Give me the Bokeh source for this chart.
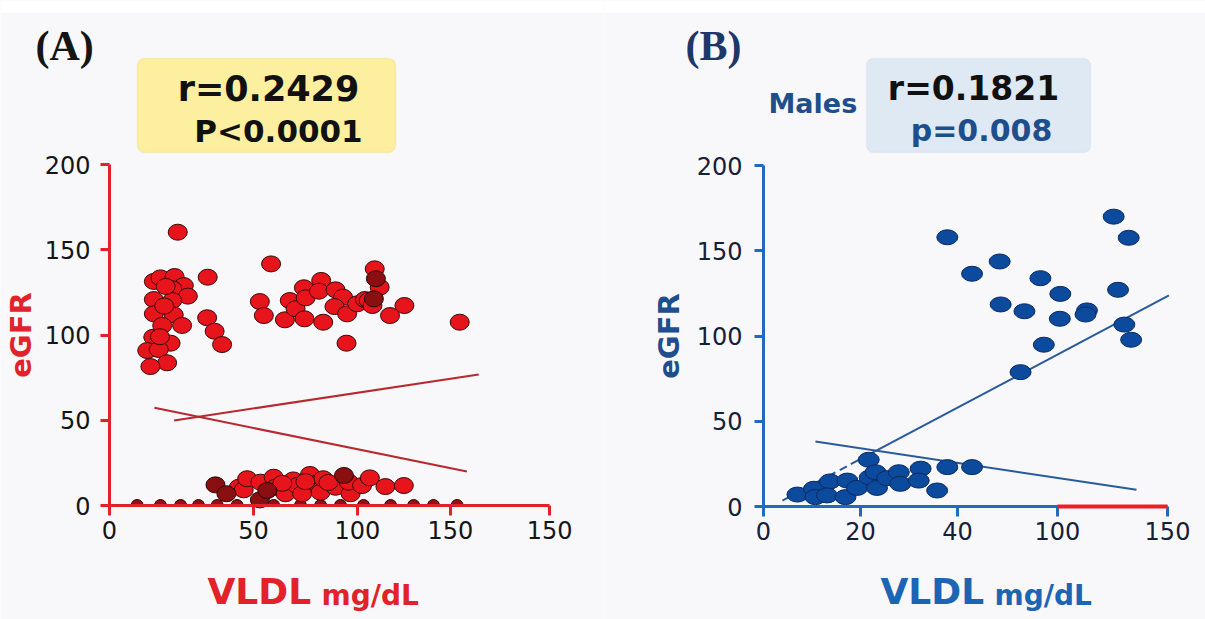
import math
from bokeh.plotting import figure
from bokeh.layouts import row
from bokeh.models import Range1d, FixedTicker, Label, BoxAnnotation
from bokeh.embed import file_html
from bokeh.resources import INLINE

# ---------------- data (panel A) ----------------
a_x = [23.7, 15.4, 17.7, 22.6, 25.8, 21.8, 27.2, 15.4, 21.8, 15.4, 22.3, 18.3, 25.2, 15.2, 21.2,
       13.1, 17.1, 20.0, 14.2, 19.5, 19.0, 17.5, 34.1, 33.9, 36.5, 39.1,
       56.1, 52.2, 53.6, 60.9, 62.6, 64.6, 67.5, 68.1, 67.7, 73.5, 72.7, 74.2, 78.5, 81.1, 78.1,
       82.5, 82.3, 86.0, 88.7, 90.0, 91.3, 92.1, 93.8, 97.4, 102.4, 121.6,
       44.9, 46.6, 47.8, 52.4, 57.0, 57.6, 61.1, 63.8, 65.1, 66.9, 69.6, 71.9, 73.3, 74.2, 78.5,
       83.7, 83.1, 87.7, 90.4, 95.8, 102.2, 60.0, 68.0, 76.0]
a_y = [160.3, 131.4, 133.5, 134.3, 129.0, 127.1, 122.8, 120.8, 120.2, 112.4, 111.8, 105.6, 105.6, 98.7, 95.2,
       90.9, 91.5, 83.7, 81.5, 128.5, 117.0, 99.0, 133.9, 110.1, 102.2, 94.4,
       141.7, 119.6, 111.4, 108.9, 120.2, 115.4, 127.7, 121.8, 109.5, 132.0, 125.7, 107.5, 126.5, 122.2, 116.7,
       112.4, 95.2, 118.3, 120.8, 120.2, 117.3, 138.8, 128.0, 111.4, 117.3, 107.5,
       10.7, 9.2, 15.7, 13.7, 16.6, 10.7, 6.9, 15.0, 11.7, 6.9, 18.2, 13.1, 7.8, 15.7, 10.7,
       6.9, 13.7, 11.7, 16.2, 11.1, 11.7, 13.0, 14.0, 13.5]
a_dark_x = [36.8, 40.6, 52.2, 54.8, 81.4, 92.5, 91.8]
a_dark_y = [12.1, 6.9, 3.3, 8.8, 17.6, 133.0, 121.2]
a_zero_x = [9.6, 17.7, 24.7, 30.9, 37.4, 44.3, 57.0, 66.3, 73.3, 80.2, 88.2, 97.6, 105.6, 112.5, 120.7]
a_zero_y = [0] * len(a_zero_x)
a_fit1_x = [22.4, 128.2]
a_fit1_y = [49.9, 76.8]
a_fit2_x = [15.6, 124.1]
a_fit2_y = [57.3, 19.9]
a_xticks = [0, 50, 86.1, 118.4, 152.8]
a_xlabels = ["0", "50", "100", "150", "150"]
y_ticks = [0, 50, 100, 150, 200]

# ---------------- data (panel B) ----------------
b_x = [7.0, 10.4, 10.7, 13.7, 13.1, 17.3, 16.9, 19.3, 21.7, 21.9, 23.1, 23.4, 25.5, 27.9, 28.2,
       32.4, 32.0, 35.8, 37.9, 43.0, 37.9, 43.0, 48.7, 48.9, 53.0, 53.8, 57.1, 57.8, 61.2, 61.1,
       66.7, 66.4, 72.2, 73.1, 75.3, 74.4, 75.8]
b_y = [7.0, 10.4, 5.5, 14.7, 6.5, 15.2, 5.5, 10.9, 27.4, 17.0, 20.1, 10.9, 16.6, 20.1, 13.3,
       22.2, 15.2, 9.4, 23.1, 23.1, 157.9, 136.5, 143.7, 118.5, 78.8, 114.5, 133.9, 94.9, 124.7, 110.1,
       115.0, 112.6, 170.0, 127.1, 157.6, 106.7, 97.8]
b_fit_dash_x = [3.9, 18.0]
b_fit_dash_y = [3.5, 24.8]
b_fit_up_x = [18.0, 83.6]
b_fit_up_y = [24.8, 123.8]
b_fit_down_x = [10.7, 76.9]
b_fit_down_y = [38.1, 9.8]
b_red_x = [60.6, 83.3]
b_red_y = [0, 0]
b_xticks = [0, 20, 40, 60.6, 83.3]
b_xlabels = ["0", "20", "40", "100", "150"]

BG = "#f8f8fa"
RED = "#e1222a"
BLUE = "#1e6bc0"
NAVY = "#1f4e8c"

H = 619
PY = 1.705


def make_fig(width, left, bottom_px, pxx):
    p = figure(width=width, height=H, output_backend="svg", toolbar_location=None,
               x_range=Range1d(-left / pxx, (width - left) / pxx),
               y_range=Range1d(-(H - bottom_px) / PY, bottom_px / PY),
               min_border=0)
    p.grid.visible = False
    p.outline_line_color = None
    p.background_fill_color = BG
    p.border_fill_color = BG
    # white strip along the very top of the picture
    p.add_layout(BoxAnnotation(bottom=(bottom_px - 12) / PY, fill_color="white", fill_alpha=1,
                               line_color=None, level="underlay"))
    return p


def style_axes(p, col, lab_col, xticks, xlabels, xend):
    for ax in (p.xaxis[0], p.yaxis[0]):
        ax.fixed_location = 0
        ax.axis_line_color = col
        ax.axis_line_width = 3
        ax.major_tick_line_color = col
        ax.major_tick_line_width = 3
        ax.major_tick_in = 0
        ax.minor_tick_line_color = None
        ax.major_label_text_font = "DejaVu Sans"
        ax.major_label_text_font_size = "24px"
        ax.major_label_text_color = lab_col
    p.yaxis.ticker = FixedTicker(ticks=y_ticks)
    p.yaxis.bounds = (0, 200)
    p.yaxis.major_tick_out = 9
    p.yaxis.major_label_standoff = 10
    p.xaxis.ticker = FixedTicker(ticks=xticks)
    p.xaxis.major_label_overrides = {t: s for t, s in zip(xticks, xlabels)}
    p.xaxis.bounds = (0, xend)
    p.xaxis.major_tick_out = 10
    p.xaxis.major_label_standoff = 5


def add_text(p, x, y, text, size, color, font="DejaVu Sans", align="left"):
    p.add_layout(Label(x=x, y=y, text=text, text_font=font, text_font_style="bold",
                       text_font_size=size, text_color=color,
                       text_baseline="middle", text_align=align))


# ================= Panel A =================
LA, BA, PXA = 109, 505, 2.88
pa = make_fig(603, LA, BA, PXA)
style_axes(pa, RED, "#151515", a_xticks, a_xlabels, a_xticks[-1])
pa.yaxis.axis_label = "eGFR"
pa.yaxis.axis_label_text_font = "DejaVu Sans"
pa.yaxis.axis_label_text_font_style = "bold"
pa.yaxis.axis_label_text_font_size = "29px"
pa.yaxis.axis_label_text_color = RED
pa.yaxis.axis_label_standoff = 4


def axA(px):
    return (px - LA) / PXA


def ayA(py):
    return (BA - py) / PY


pa.line(a_fit1_x, a_fit1_y, line_color="#b8282e", line_width=2)
pa.line(a_fit2_x, a_fit2_y, line_color="#b8282e", line_width=2)
pa.wedge(a_zero_x, a_zero_y, radius=6, radius_units="screen", start_angle=0, end_angle=math.pi,
         fill_color="#9a0e12", line_color="#2a0404", line_width=1)
pa.ellipse(a_x, a_y, width=19, height=16, width_units="screen", height_units="screen",
           fill_color="#e8141c", line_color="#3a0808", line_width=1)
pa.ellipse(a_dark_x, a_dark_y, width=19, height=16, width_units="screen", height_units="screen",
           fill_color="#8a0f10", line_color="#2a0404", line_width=1)

pa.add_layout(BoxAnnotation(left=axA(137), right=axA(395), top=ayA(58), bottom=ayA(152),
                            fill_color="#fcef9f", fill_alpha=1, line_color="#f2d36a",
                            line_width=1.5, border_radius=7))
add_text(pa, axA(35), ayA(45), "(A)", "42px", "#151515", font="Liberation Serif")
add_text(pa, axA(268), ayA(88), "r=0.2429", "35px", "#111111", align="center")
add_text(pa, axA(278), ayA(130), "P<0.0001", "31px", "#111111", align="center")
add_text(pa, axA(207), ayA(591), "VLDL", "36px", RED)
add_text(pa, axA(321), ayA(595), "mg/dL", "28px", RED)

# ================= Panel B =================
LB, BB, PXB = 160, 506, 4.85
pb = make_fig(602, LB, BB, PXB)
style_axes(pb, BLUE, "#15203a", b_xticks, b_xlabels, b_xticks[-1])
pb.yaxis.major_label_standoff = 12
pb.yaxis.axis_label = "eGFR"
pb.yaxis.axis_label_text_font = "DejaVu Sans"
pb.yaxis.axis_label_text_font_style = "bold"
pb.yaxis.axis_label_text_font_size = "29px"
pb.yaxis.axis_label_text_color = NAVY
pb.yaxis.axis_label_standoff = 8


def axB(px):
    return (px - (LB + 603)) / PXB


def ayB(py):
    return (BB - py) / PY


pb.line(b_fit_dash_x, b_fit_dash_y, line_color="#2a5a9c", line_width=2, line_dash="8 5")
pb.line(b_fit_up_x, b_fit_up_y, line_color="#2a5a9c", line_width=2)
pb.line(b_fit_down_x, b_fit_down_y, line_color="#2a5a9c", line_width=2)
pb.ellipse(b_x, b_y, width=21, height=15, width_units="screen", height_units="screen",
           fill_color="#0c4a9e", line_color="#082a60", line_width=1)
pb.line(b_red_x, b_red_y, line_color="#e8202a", line_width=4, level="overlay")

pb.add_layout(BoxAnnotation(left=axB(866), right=axB(1090), top=ayB(58), bottom=ayB(152),
                            fill_color="#dfe9f4", fill_alpha=1, line_color="#c6d8eb",
                            line_width=1.5, border_radius=7))
add_text(pb, axB(685), ayB(45), "(B)", "42px", "#1f3768", font="Liberation Serif")
add_text(pb, axB(768), ayB(103), "Males", "27px", NAVY)
add_text(pb, axB(973), ayB(88), "r=0.1821", "33px", "#111111", align="center")
add_text(pb, axB(981), ayB(130), "p=0.008", "30px", NAVY, align="center")
add_text(pb, axB(880), ayB(591), "VLDL", "36px", "#1c64b4")
add_text(pb, axB(994), ayB(595), "mg/dL", "28px", "#1c64b4")

layout = row(pa, pb)
open("out.html", "w").write(file_html(layout, INLINE))
